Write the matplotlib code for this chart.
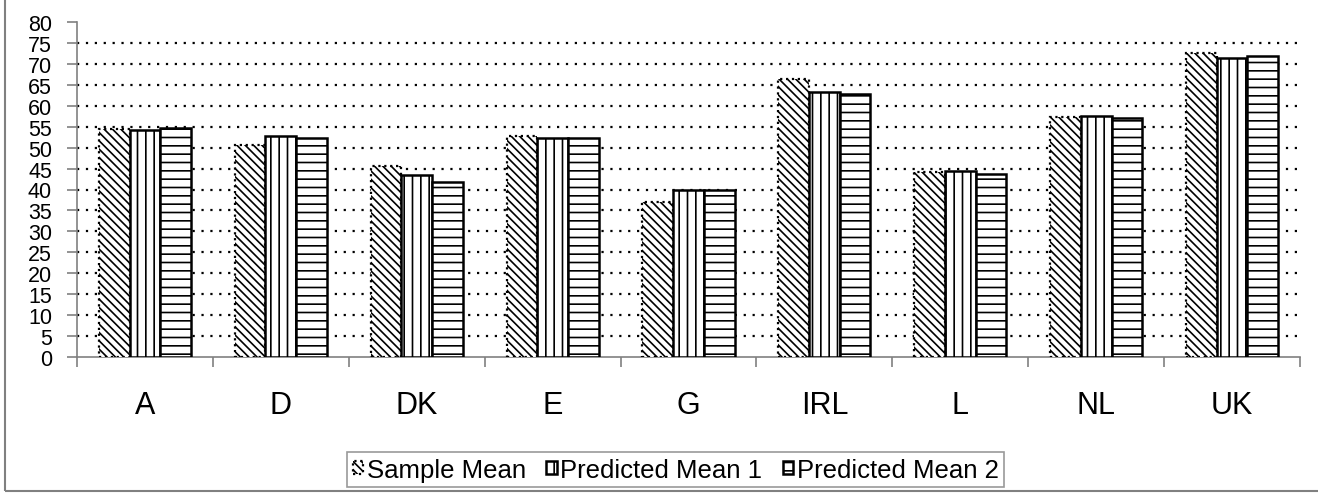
import numpy as np
import matplotlib
matplotlib.use('Agg')
import matplotlib.pyplot as plt
from matplotlib.patches import Rectangle

countries = ['A', 'D', 'DK', 'E', 'G', 'IRL', 'L', 'NL', 'UK']
sample_mean = [54.5, 50.7, 45.5, 52.8, 37.0, 66.5, 44.2, 57.3, 72.7]
pred_mean_1 = [54.3, 52.8, 43.4, 52.4, 39.9, 63.4, 44.3, 57.6, 71.4]
pred_mean_2 = [54.8, 52.4, 41.9, 52.4, 40.0, 62.9, 43.8, 57.1, 71.9]
y_ticks = list(range(0, 85, 5))

plt.rcParams['font.family'] = ['Liberation Sans', 'DejaVu Sans']
plt.rcParams['hatch.linewidth'] = 1.2

fig = plt.figure(figsize=(13.18, 5.02), dpi=100)
ax = fig.add_axes([77/1318, 1 - 358/502, 1223/1318, 335/502])

x = np.arange(len(countries))
w = 0.226

# dotted grid lines (none at 0 and at the top)
ax.hlines(y_ticks[1:-1], -0.5, len(countries) - 0.5, colors='black',
          linestyles=(0, (1, 3)), linewidth=1.6, zorder=1)

ax.bar(x - w, sample_mean, width=w, facecolor='white', edgecolor='black',
       hatch='\\\\\\\\', linestyle=':', linewidth=1.6, zorder=3,
       label='Sample Mean')
ax.bar(x, pred_mean_1, width=w, facecolor='white', edgecolor='black',
       hatch='||', linewidth=1.8, zorder=3, label='Predicted Mean 1')
ax.bar(x + w, pred_mean_2, width=w, facecolor='white', edgecolor='black',
       hatch='--', linewidth=1.8, zorder=3, label='Predicted Mean 2')

ax.set_xlim(-0.5, len(countries) - 0.5)
ax.set_ylim(0, 80)
ax.set_yticks(y_ticks)
ax.tick_params(axis='y', labelsize=15.5, length=7, width=1.2, color='#808080', pad=11)

ax.set_xticks(np.arange(-0.5, len(countries), 1.0))
ax.set_xticklabels([])
ax.tick_params(axis='x', which='major', length=7, width=1.2, color='#808080')
ax.set_xticks(x, minor=True)
ax.set_xticklabels(countries, minor=True)
ax.tick_params(axis='x', which='minor', length=0, labelsize=22, pad=24)

for side in ['top', 'right']:
    ax.spines[side].set_visible(False)
for side in ['left', 'bottom']:
    ax.spines[side].set_color('#808080')
    ax.spines[side].set_linewidth(1.2)

leg = fig.legend(loc='upper left', bbox_to_anchor=(347/1318, 1 - 453/502), ncol=3,
                 fontsize=18.5, frameon=True, fancybox=False, handlelength=0.42,
                 handleheight=0.42, handletextpad=0.12, columnspacing=0.8,
                 borderpad=0.22, borderaxespad=0)
leg.get_frame().set_edgecolor('#808080')
leg.get_frame().set_linewidth(1.2)

# outer chart frame
fig.patches.append(Rectangle((5/1318, 10/502), 1.5, 1.5, transform=fig.transFigure,
                             fill=False, edgecolor='#808080', linewidth=1.5))

fig.savefig('out.png', dpi=100)
